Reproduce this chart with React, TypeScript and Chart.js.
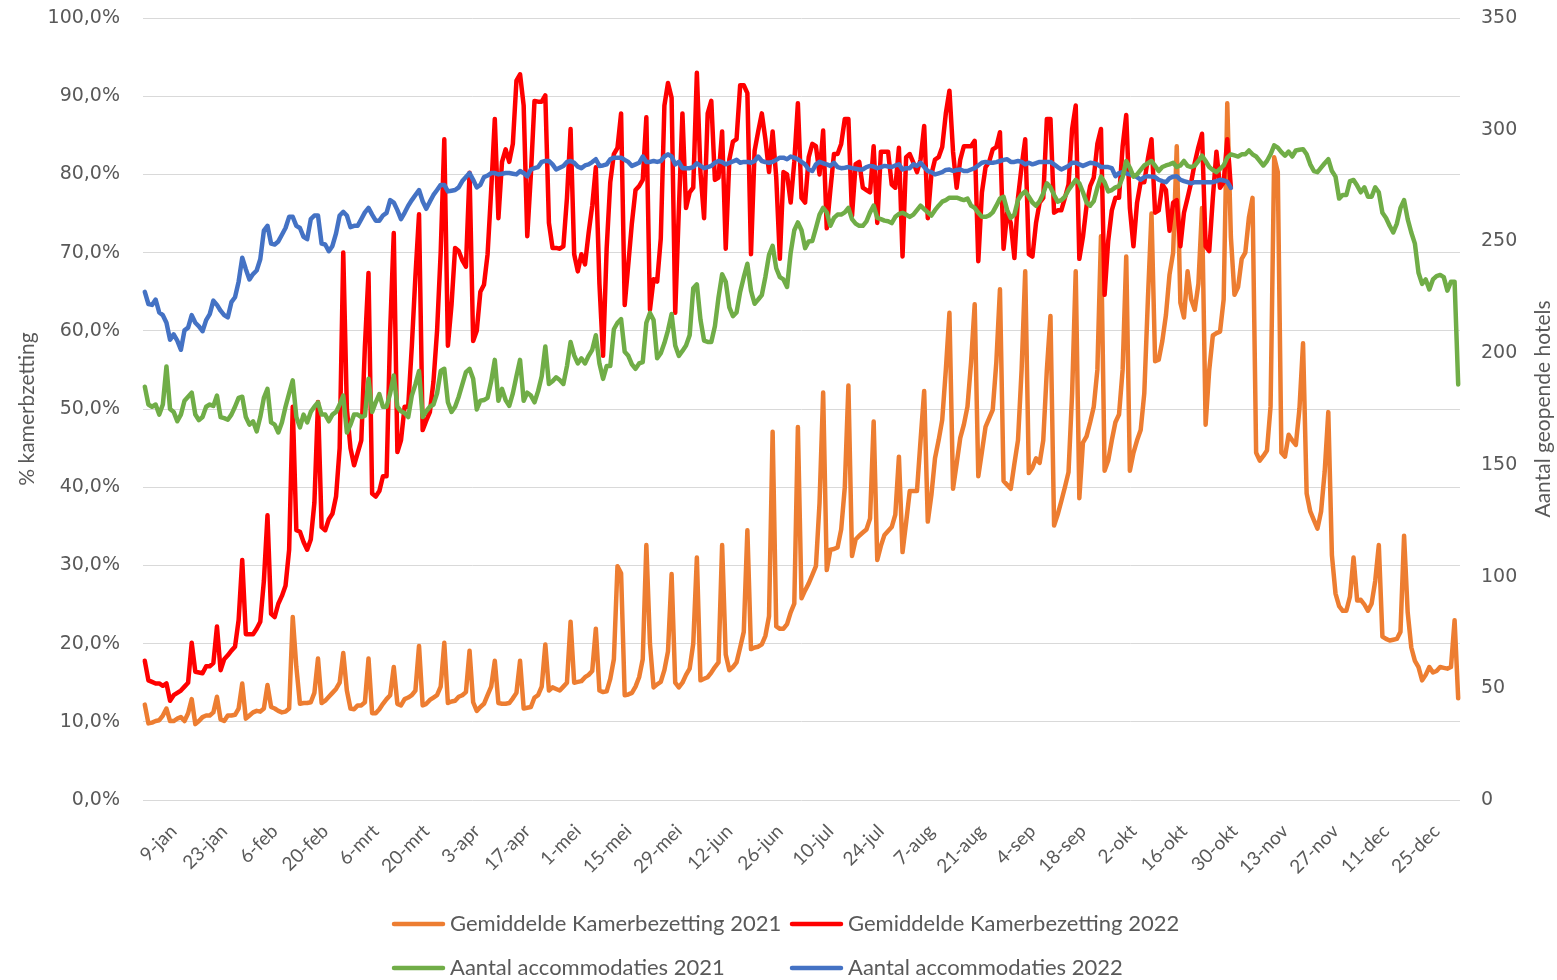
import React, { useEffect, useRef } from 'react';
import { Chart, registerables } from 'chart.js';

Chart.register(...registerables);

// ---------- categories (one per day of the year) ----------
const monthNames = ['jan', 'feb', 'mrt', 'apr', 'mei', 'jun', 'jul', 'aug', 'sep', 'okt', 'nov', 'dec'];
const monthDays = [31, 28, 31, 30, 31, 30, 31, 31, 30, 31, 30, 31];
const categories: string[] = monthNames.flatMap((m, k) =>
  Array.from({ length: monthDays[k] }, (_, d) => `${d + 1}-${m}`)
);

// ---------- tick labels shown on the x axis ----------
const tickLabels = [
  '9-jan', '23-jan', '6-feb', '20-feb', '6-mrt', '20-mrt', '3-apr', '17-apr', '1-mei', '15-mei',
  '29-mei', '12-jun', '26-jun', '10-jul', '24-jul', '7-aug', '21-aug', '4-sep', '18-sep', '2-okt',
  '16-okt', '30-okt', '13-nov', '27-nov', '11-dec', '25-dec',
];

// ---------- series ----------
const occupancy2021 = [
  12.2, 9.8, 9.9, 10.1, 10.2, 10.8, 11.7,
  10.1, 10.1, 10.4, 10.6, 10.1, 11.1, 12.9,
  9.7, 10.1, 10.6, 10.8, 10.8, 11.2, 13.2,
  10.3, 10.1, 10.8, 10.8, 10.9, 11.7, 14.9,
  10.4, 10.8, 11.2, 11.4, 11.3, 11.7, 14.7,
  11.9, 11.7, 11.4, 11.2, 11.3, 11.7, 23.4,
  17.0, 12.3, 12.4, 12.4, 12.5, 13.7, 18.1,
  12.4, 12.7, 13.2, 13.7, 14.2, 15.0, 18.8,
  14.0, 11.7, 11.6, 12.1, 12.1, 12.5, 18.1,
  11.1, 11.1, 11.6, 12.3, 12.9, 13.4, 17.0,
  12.3, 12.1, 12.9, 13.1, 13.4, 14.0, 19.7,
  12.1, 12.3, 12.8, 13.1, 13.4, 14.5, 20.1,
  12.4, 12.6, 12.7, 13.2, 13.4, 13.8, 19.1,
  12.5, 11.4, 11.9, 12.3, 13.4, 14.5, 17.8,
  12.4, 12.3, 12.3, 12.4, 13.0, 13.7, 17.8,
  11.7, 11.8, 11.9, 13.1, 13.4, 14.5, 19.9,
  14.0, 14.4, 14.2, 14.0, 14.5, 15.0, 22.8,
  15.0, 15.1, 15.2, 15.7, 16.0, 16.5, 21.9,
  14.0, 13.8, 13.9, 15.5, 18.0, 29.9, 29.0,
  13.4, 13.5, 13.7, 14.5, 15.7, 18.0, 32.6,
  20.0, 14.4, 14.8, 15.1, 16.6, 19.0, 28.9,
  15.0, 14.4, 15.0, 16.0, 16.8, 20.0, 31.0,
  15.3, 15.5, 15.7, 16.3, 17.0, 17.6, 32.6,
  18.6, 16.6, 17.0, 17.6, 19.5, 21.5, 34.5,
  19.3, 19.5, 19.6, 19.9, 21.0, 23.5, 47.1,
  22.2, 21.9, 21.9, 22.5, 24.0, 25.1, 47.7,
  25.8, 26.8, 27.7, 28.8, 29.9, 38.0, 52.1,
  29.4, 32.0, 32.1, 32.3, 34.6, 40.0, 53.0,
  31.2, 33.3, 33.8, 34.2, 34.6, 36.0, 48.4,
  30.7, 32.5, 33.9, 34.4, 34.9, 36.5, 43.9,
  31.7, 35.5, 39.5, 39.5, 39.5, 46.0, 52.3,
  35.6, 39.0, 43.7, 46.0, 48.6, 55.0, 62.3,
  39.8, 43.0, 46.3, 48.0, 50.3, 56.0, 63.4,
  41.4, 44.5, 47.7, 48.8, 49.9, 56.0, 65.3,
  40.8, 40.3, 39.8, 43.0, 46.0, 55.0, 67.6,
  41.8, 42.5, 43.7, 43.1, 46.0, 55.0, 61.9,
  35.1, 36.5, 38.2, 40.0, 41.9, 52.0, 67.6,
  38.6, 45.7, 46.5, 48.3, 50.3, 55.0, 72.1,
  42.1, 43.4, 46.0, 48.3, 49.3, 55.0, 69.5,
  42.1, 44.4, 46.0, 47.3, 52.0, 64.0, 75.0,
  56.1, 56.3, 58.7, 62.0, 67.2, 70.0, 83.6,
  63.6, 61.7, 67.6, 64.0, 62.7, 66.0, 75.7,
  48.0, 55.0, 59.4, 59.7, 59.9, 64.0, 89.1,
  72.0, 64.6, 65.6, 69.2, 70.0, 74.5, 77.0,
  44.4, 43.4, 44.0, 44.7, 50.3, 82.2, 80.3,
  44.4, 43.9, 46.7, 46.0, 45.4, 50.0, 58.4,
  39.2, 36.9, 35.8, 34.7, 36.9, 42.0, 49.6,
  31.3, 26.4, 24.8, 24.2, 24.2, 26.0, 31.0,
  25.5, 25.6, 25.0, 24.2, 25.1, 28.0, 32.6,
  20.9, 20.6, 20.4, 20.5, 20.6, 21.5, 33.8,
  24.0, 19.5, 17.8, 17.0, 15.3, 16.0, 17.0,
  16.3, 16.5, 17.0, 16.9, 16.8, 17.0, 23.0,
  13.0,
];

const occupancy2022 = [
  17.8, 15.3, 15.1, 14.9, 14.9, 14.6, 14.9,
  12.7, 13.4, 13.7, 14.0, 14.5, 15.0, 20.1,
  16.4, 16.3, 16.2, 17.1, 17.1, 17.5, 22.2,
  16.6, 18.0, 18.5, 19.1, 19.6, 23.0, 30.7,
  21.2, 21.2, 21.2, 21.9, 22.8, 28.0, 36.4,
  23.8, 23.4, 25.1, 26.1, 27.4, 32.0, 50.3,
  34.5, 34.3, 33.0, 32.0, 33.3, 38.0, 50.9,
  34.9, 34.5, 35.9, 36.6, 38.8, 45.0, 70.0,
  50.0, 45.0, 42.8, 44.4, 46.0, 58.0, 67.4,
  39.2, 38.8, 39.5, 41.4, 41.4, 60.0, 72.5,
  44.5, 46.0, 50.3, 50.3, 58.0, 67.0, 74.9,
  47.3, 48.5, 49.6, 53.5, 60.0, 70.0, 84.5,
  58.1, 63.3, 70.6, 70.2, 69.0, 68.2, 80.2,
  58.7, 60.0, 65.0, 65.9, 69.8, 78.0, 87.1,
  74.4, 81.6, 83.2, 81.6, 83.9, 92.0, 92.8,
  88.8, 72.1, 80.0, 89.4, 89.3, 89.3, 90.1,
  73.8, 70.6, 70.6, 70.5, 70.8, 77.0, 85.8,
  69.8, 67.6, 69.8, 68.5, 72.5, 76.0, 80.9,
  66.0, 56.8, 70.5, 79.0, 82.6, 83.4, 87.8,
  63.3, 68.5, 73.8, 78.0, 78.5, 79.3, 87.3,
  62.7, 66.6, 66.3, 71.8, 88.8, 91.7, 89.8,
  62.3, 75.4, 87.8, 75.7, 77.7, 78.3, 93.0,
  80.3, 74.4, 87.8, 89.4, 79.3, 79.6, 85.5,
  70.5, 81.9, 84.2, 84.5, 91.4, 91.4, 90.4,
  69.8, 83.0, 85.5, 87.8, 84.5, 80.3, 85.5,
  79.6, 69.2, 80.3, 80.0, 76.4, 81.6, 89.1,
  77.0, 76.4, 82.2, 83.9, 83.6, 80.0, 85.6,
  73.1, 78.0, 82.6, 82.6, 83.9, 87.1, 87.1,
  74.7, 81.3, 81.6, 78.3, 78.0, 77.7, 83.6,
  73.8, 82.9, 82.9, 82.9, 78.7, 78.3, 83.4,
  69.5, 82.2, 82.6, 81.5, 80.3, 81.9, 86.2,
  74.4, 80.0, 81.9, 82.2, 83.5, 87.8, 90.7,
  82.9, 78.3, 81.9, 83.6, 83.6, 83.6, 84.3,
  68.9, 77.7, 80.9, 81.6, 83.2, 83.5, 85.4,
  70.5, 75.1, 73.8, 69.3, 77.0, 81.0, 84.5,
  69.8, 69.5, 73.8, 76.4, 77.0, 87.1, 87.1,
  75.1, 75.4, 75.4, 77.0, 78.7, 85.8, 88.8,
  69.2, 72.0, 76.0, 78.5, 79.6, 83.9, 85.8,
  64.6, 71.5, 75.4, 77.0, 77.0, 83.6, 87.6,
  75.7, 70.8, 76.4, 79.0, 79.0, 82.0, 84.5,
  75.1, 75.4, 78.7, 78.0, 72.8, 76.4, 76.7,
  70.8, 75.1, 77.0, 79.0, 81.5, 83.5, 85.2,
  70.8, 70.2, 77.0, 82.9, 78.3, 79.0, 84.5,
  78.3,
];

const hotels2021 = [
  185, 177, 176, 177, 172.5, 177, 194,
  175, 173.7, 169.5, 172.5, 178.7, 180.5, 182.3,
  172.5, 170, 171.4, 176, 177, 176.4, 181,
  171.4, 170.9, 170.2, 172.5, 176, 180, 180.5,
  171.4, 168, 169.5, 165, 171.4, 180, 184,
  169, 168, 164.5, 169, 176, 182, 187.8,
  171.4, 166.8, 172.5, 169, 173.7, 176, 178,
  172.5, 172.5, 169.5, 172.5, 173.7, 177, 181,
  164.5, 168, 172.5, 172.5, 171.4, 172, 188.5,
  173.7, 178, 181.7, 176, 176, 182, 190,
  176, 174, 173.2, 171.4, 181, 186, 192,
  171.4, 174, 176, 177, 182, 192, 193,
  178, 173.7, 176, 180.5, 186, 191.5, 193,
  188.5, 174.8, 178.7, 179, 180, 187.4, 197,
  178.7, 184, 179, 176.4, 182, 189.7, 197,
  178.7, 182.3, 181, 178, 183, 189.7, 203,
  186.2, 187.4, 189.2, 188, 186.2, 194.2, 205,
  199, 195.4, 197.7, 195.4, 198.8, 201.5, 208,
  195.4, 188.5, 194.2, 194.2, 210.7, 213.6, 215.2,
  200.6, 198.8, 195, 193, 195.4, 196, 213.6,
  218, 214.8, 197.7, 200, 204.5, 210.2, 217.5,
  203.4, 198.8, 201, 203.4, 208, 229, 230.8,
  215, 205.6, 205, 205, 212, 225, 235.3,
  232, 220.5, 216.6, 218.2, 227.4, 234, 240,
  228, 222.1, 224, 226, 234.2, 244, 248,
  238, 234, 233, 229.6, 245, 255, 258.5,
  255, 247, 250, 250.2, 256, 262, 265,
  263, 257, 260.5, 262, 262, 263, 265,
  260, 258, 257, 257, 259, 263, 266,
  260.5, 260, 259.3, 259, 258.2, 261, 262.3,
  262.8, 262, 261, 262, 264, 266, 264.5,
  263, 261.6, 264, 266, 267.8, 268.5, 269.6,
  269.6, 269.6, 269, 268.5, 269.2, 266, 265,
  262.8, 261, 261, 261.6, 263, 266, 269.2,
  270, 264, 260.5, 262, 268.5, 271, 272.4,
  270, 267.4, 266, 268, 271.5, 276, 274.2,
  270.8, 267.8, 268.5, 270, 273, 275.3, 277.6,
  276, 272, 267.4, 266, 268, 274, 279,
  276.5, 272.4, 273, 274.2, 274.7, 278.8, 286,
  283, 279, 280, 282, 284, 285, 286,
  283.8, 281.5, 283.3, 284, 284.5, 285.2, 283.3,
  284, 286, 283.8, 283.3, 284, 286, 288.4,
  286, 283.3, 282, 281, 282.5, 284, 287.5,
  289, 288.5, 288, 289, 289, 290.7, 289,
  288, 286, 284, 286, 289, 293, 292,
  290, 288.4, 290.2, 288, 290.7, 291, 291.3,
  289, 284.5, 281.5, 281, 283, 285, 286.8,
  281.5, 279, 269.2, 270.8, 270.8, 277, 277.5,
  275, 272, 274.2, 270, 270, 274.2, 272,
  262.8, 260.5, 257, 254, 258, 265, 268.5,
  260, 254, 249, 236, 231, 233, 228.5,
  233, 234.5, 235, 234, 228, 232, 232,
  186,
];

const hotels2022 = [
  227.4, 222, 221.6, 224, 218.2, 217, 213.6,
  206, 208.4, 205.6, 201.5, 210.2, 211.4, 217,
  213.6, 212, 209.8, 214.8, 217.5, 223.5, 221.6,
  219, 217, 216, 222.8, 225, 232, 242.7,
  237.6, 233, 235.4, 237, 242, 254.8, 257,
  249, 248.6, 250, 253, 256, 261, 261,
  257, 256, 252, 251, 260, 261.6, 261.6,
  249, 248.6, 245.6, 248, 253.6, 261.6, 263.2,
  261.6, 256.4, 257, 257, 260, 263, 265,
  262, 259.3, 259.3, 261.6, 262.8, 268.5, 267.4,
  264, 260, 262.8, 266, 268.5, 270.8, 273,
  268, 264.6, 267.8, 270.8, 273, 275.3, 275.3,
  272.4, 272.7, 273, 274.2, 277, 278.8, 280.6,
  277.6, 274.2, 275.3, 278.8, 279.5, 280.6, 280.6,
  280, 280.3, 280.6, 280.6, 280.3, 280, 281.5,
  280.6, 279.2, 282.2, 282.8, 283.3, 285.6, 286,
  286, 284.5, 282.2, 283, 283.8, 285.6, 286,
  285.2, 283.5, 282.8, 284, 284.5, 285.5, 286.8,
  283.8, 284, 284.5, 286.8, 287.5, 287.5, 287.5,
  286.5, 285.6, 283.8, 284.5, 285.2, 288, 285.6,
  285.6, 286, 285.6, 286, 288, 289, 288,
  284.5, 285.6, 282.8, 282.8, 282.8, 283.3, 285,
  283.8, 282.8, 283.3, 283.8, 285.2, 286, 285.5,
  284.5, 285.2, 285.8, 286.5, 285.2, 285.6, 285.6,
  285.2, 286, 288, 286, 285.5, 285.2, 285.6,
  286.5, 287.5, 287.5, 286.8, 288, 287.5, 286.8,
  285.6, 284.5, 282.2, 281.5, 284.5, 285.6, 285,
  284.5, 283.8, 285.2, 283.3, 282.8, 283, 283.3,
  282.8, 282.5, 282.2, 282.2, 283.3, 283.8, 283.5,
  282.8, 283.3, 283.8, 283.5, 283.3, 284, 284.5,
  282.2, 282.8, 282.8, 284.5, 283.8, 285.2, 283.3,
  281.5, 281, 280, 280.5, 281, 282, 282.2,
  281.5, 282, 282.2, 281.5, 281.5, 282.2, 282.8,
  284, 285.2, 285.6, 285.2, 285.2, 285.5, 286,
  286.5, 286.8, 285.6, 285.6, 286, 285.6, 284.5,
  285.2, 284.5, 285, 285.6, 285.6, 285.6, 285.6,
  284.5, 283.3, 282.2, 283, 283.8, 285.2, 285.2,
  284.5, 283.8, 284.5, 285.2, 285, 284.5, 283.3,
  283.3, 283.3, 282.8, 279.2, 280.6, 281, 280.5,
  280, 279.5, 278.8, 277.6, 278.8, 279.2, 279,
  278.8, 277.6, 277, 276.5, 278.3, 279, 279.2,
  277.6, 277, 276.5, 276, 276.5, 276.5, 276.5,
  276.5, 276.5, 276.5, 277, 277.6, 277.3, 276.8,
  274,
];

const seriesNames = [
  'Gemiddelde Kamerbezetting 2021',
  'Gemiddelde Kamerbezetting 2022',
  'Aantal accommodaties 2021',
  'Aantal accommodaties 2022',
];
const seriesColors = ['#ED7D31', '#FF0000', '#70AD47', '#4472C4'];
const leftTitle = '% kamerbzetting';
const rightTitle = 'Aantal geopende hotels';

const TEXT_COLOR = '#595959';
const LABEL_FONT = 'Lato, "Open Sans", sans-serif';
const TICK_FONT = '"DejaVu Sans", Verdana, sans-serif';

const overlayPlugin = {
  id: 'overlay',
  afterDraw(chart: any) {
    const ctx: CanvasRenderingContext2D = chart.ctx;
    const area = chart.chartArea;
    const midY = (area.top + area.bottom) / 2;
    ctx.save();
    ctx.fillStyle = TEXT_COLOR;
    ctx.font = `21px ${LABEL_FONT}`;
    ctx.textAlign = 'center';
    ctx.textBaseline = 'middle';
    // axis titles (both read bottom-to-top)
    ctx.save();
    ctx.translate(27, midY);
    ctx.rotate(-Math.PI / 2);
    ctx.fillText(leftTitle, 0, 0);
    ctx.restore();
    ctx.save();
    ctx.translate(chart.width - 14, midY);
    ctx.rotate(-Math.PI / 2);
    ctx.fillText(rightTitle, 0, 0);
    ctx.restore();

    // legend: 2 x 2 grid
    const cols = [392, 790];
    const rows = [924, 968];
    ctx.textAlign = 'left';
    ctx.font = `22px ${LABEL_FONT}`;
    seriesNames.forEach((name, k) => {
      const x = cols[k % 2];
      const y = rows[Math.floor(k / 2)];
      ctx.strokeStyle = seriesColors[k];
      ctx.lineWidth = 4.5;
      ctx.lineCap = 'round';
      ctx.beginPath();
      ctx.moveTo(x + 2, y);
      ctx.lineTo(x + 51, y);
      ctx.stroke();
      ctx.fillStyle = TEXT_COLOR;
      ctx.fillText(name, x + 58, y);
    });
    ctx.restore();
  },
};

export default function App() {
  const canvasRef = useRef<HTMLCanvasElement | null>(null);

  useEffect(() => {
    if (!canvasRef.current) return;
    const tickSet = new Set(tickLabels);
    const mk = (k: number, data: number[], axis: string, order: number) => ({
      label: seriesNames[k],
      data,
      yAxisID: axis,
      borderColor: seriesColors[k],
      backgroundColor: seriesColors[k],
      borderWidth: 4.5,
      pointRadius: 0,
      pointHoverRadius: 0,
      tension: 0,
      fill: false,
      borderJoinStyle: 'round' as const,
      borderCapStyle: 'round' as const,
      order,
    });

    const chart = new Chart(canvasRef.current, {
      type: 'line',
      data: {
        labels: categories,
        datasets: [
          mk(0, occupancy2021, 'y', 4),
          mk(1, occupancy2022, 'y', 3),
          mk(2, hotels2021, 'y1', 1),
          mk(3, hotels2022, 'y1', 2),
        ],
      },
      plugins: [overlayPlugin],
      options: {
        responsive: true,
        maintainAspectRatio: false,
        animation: false,
        layout: { padding: { top: 18, bottom: 90, left: 0, right: 0 } },
        plugins: {
          legend: { display: false },
          tooltip: { enabled: false },
          title: { display: false },
        },
        scales: {
          x: {
            type: 'category',
            offset: true,
            grid: { display: false },
            border: { display: false },
            afterBuildTicks: (scale: any) => {
              scale.ticks = scale.ticks.filter((t: any) => tickSet.has(categories[t.value]));
            },
            afterFit: (scale: any) => {
              scale.height = 90;
            },
            ticks: {
              autoSkip: false,
              minRotation: 45,
              maxRotation: 45,
              padding: 12,
              color: TEXT_COLOR,
              font: { family: LABEL_FONT, size: 19 },
            },
          },
          y: {
            position: 'left',
            min: 0,
            max: 100,
            afterFit: (scale: any) => {
              scale.width = 143;
            },
            grid: {
              color: '#D9D9D9',
              lineWidth: 1,
              drawTicks: true,
              tickLength: 23,
              tickColor: 'rgba(0,0,0,0)',
            },
            border: { display: false },
            ticks: {
              stepSize: 10,
              padding: 0,
              color: TEXT_COLOR,
              font: { family: TICK_FONT, size: 19 },
              callback: (v: any) => Number(v).toFixed(1).replace('.', ',') + '%',
            },
          },
          y1: {
            position: 'right',
            min: 0,
            max: 350,
            afterFit: (scale: any) => {
              scale.width = 97;
            },
            grid: {
              display: true,
              drawOnChartArea: false,
              drawTicks: true,
              tickLength: 21,
              color: 'rgba(0,0,0,0)',
              tickColor: 'rgba(0,0,0,0)',
            },
            border: { display: false },
            ticks: {
              stepSize: 50,
              padding: 0,
              color: TEXT_COLOR,
              font: { family: TICK_FONT, size: 19 },
            },
          },
        },
      },
    });
    return () => chart.destroy();
  }, []);

  return (
    <div style={{ position: 'fixed', left: 0, top: 0, width: 1557, height: 980, background: '#fff' }}>
      <canvas ref={canvasRef} />
    </div>
  );
}
